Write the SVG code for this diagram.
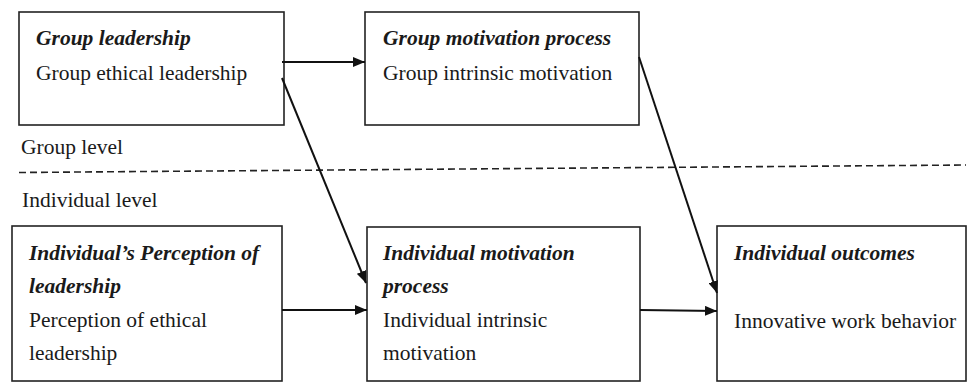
<svg xmlns="http://www.w3.org/2000/svg" width="976" height="383" viewBox="0 0 976 383">
<defs>
<marker id="ah" markerWidth="12" markerHeight="10" refX="12" refY="5" orient="auto" markerUnits="userSpaceOnUse">
<path d="M0,0 L12,5 L0,10 Z" fill="#111"/>
</marker>
</defs>
<style>
.box{fill:#fff;stroke:#222;stroke-width:1.6}
text{font-family:"Liberation Serif","Times New Roman",serif;font-size:21.5px;fill:#1a1a1a}
.h{font-weight:bold;font-style:italic}
.c{stroke:#111;stroke-width:2;fill:none}
.d{stroke:#222;stroke-width:1.6;stroke-dasharray:7 4;fill:none}
</style>
<rect width="976" height="383" fill="#fff"/>
<g id="group-leadership">
<rect class="box" x="19" y="12" width="265" height="113"/>
<text class="h" x="36" y="45">Group leadership</text>
<text x="36" y="80">Group ethical leadership</text>
</g>
<g id="group-motivation">
<rect class="box" x="365" y="12" width="274" height="113"/>
<text class="h" x="383" y="45">Group motivation process</text>
<text x="383" y="80">Group intrinsic motivation</text>
</g>
<g id="levels">
<text x="21" y="154">Group level</text>
<path class="d" d="M19,172.5 L966,165"/>
<text x="22" y="207">Individual level</text>
</g>
<g id="individual-perception">
<rect class="box" x="12" y="226" width="270" height="155"/>
<text class="h" x="29" y="260">Individual’s Perception of</text>
<text class="h" x="29" y="293">leadership</text>
<text x="29" y="327">Perception of ethical</text>
<text x="29" y="360">leadership</text>
</g>
<g id="individual-motivation">
<rect class="box" x="367" y="227" width="273" height="154"/>
<text class="h" x="383" y="260">Individual motivation</text>
<text class="h" x="383" y="293">process</text>
<text x="383" y="327">Individual intrinsic</text>
<text x="383" y="360">motivation</text>
</g>
<g id="individual-outcomes">
<rect class="box" x="717" y="226" width="249" height="155"/>
<text class="h" x="734" y="260">Individual outcomes</text>
<text x="734" y="328">Innovative work behavior</text>
</g>
<g id="connectors">
<path class="c" d="M282,62 L365,62" marker-end="url(#ah)"/>
<path class="c" d="M282,78 L366,283" marker-end="url(#ah)"/>
<path class="c" d="M639,57 L717,293" marker-end="url(#ah)"/>
<path class="c" d="M282,310 L367,310" marker-end="url(#ah)"/>
<path class="c" d="M640,310 L717,311" marker-end="url(#ah)"/>
</g>
</svg>
